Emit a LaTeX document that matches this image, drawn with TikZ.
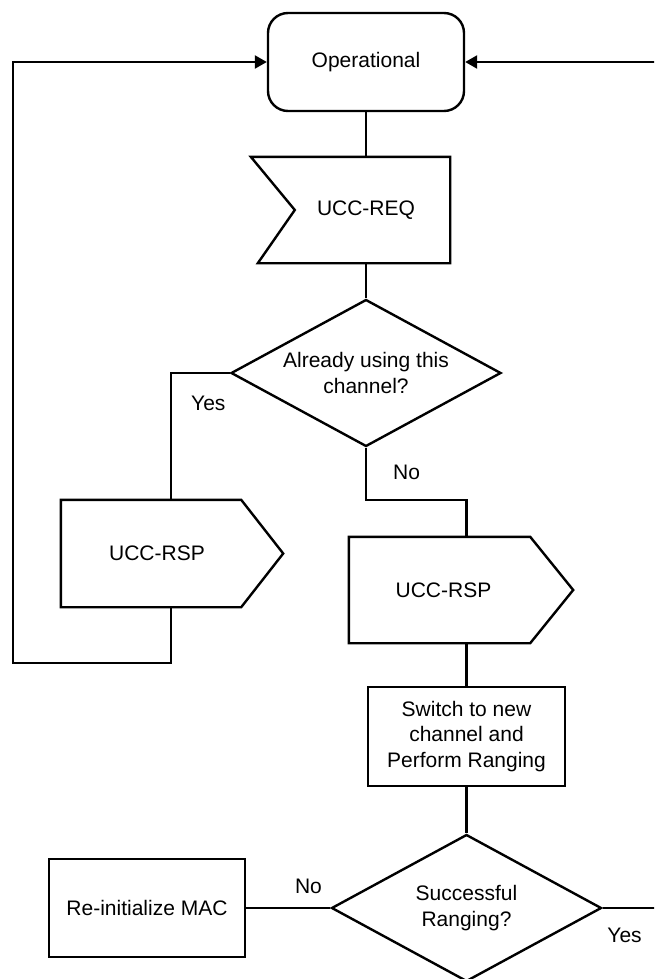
\documentclass[tikz,border=0pt]{standalone}
\usepackage{fontspec}
\setmainfont{Liberation Sans}
\usetikzlibrary{shapes.geometric,arrows.meta}

\begin{document}
\begin{tikzpicture}[x=1pt,y=-1pt,line width=2.4pt,
    font=\fontsize{21}{25.5}\selectfont,
    box/.style={draw,rectangle,minimum width=197pt,minimum height=99pt,align=center,inner sep=0pt},
    body/.style={rectangle,align=center,inner sep=0pt},
    ask/.style={draw,diamond,aspect=1.84,minimum width=270pt,minimum height=147pt,align=center,inner sep=0pt},
    arr/.style={-{Triangle[length=12pt,width=13pt]}},
    lbl/.style={inner sep=0pt}]
    \useasboundingbox (0,0) rectangle (654,979);
    \clip (0,0) rectangle (654,979);

    % Operational state
    \node[draw,rounded corners=20pt,minimum width=196pt,minimum height=98pt] (op) at (366,62) {Operational};

    % UCC-REQ received
    \node[body,minimum width=166pt,minimum height=104pt] (req) at (366,210) {UCC-REQ};
    \draw (req.north east) -- ([xshift=-31pt]req.north west) -- ([xshift=13pt]req.west)
        -- ([xshift=-24pt]req.south west) -- (req.south east) -- cycle;

    \node[ask] (q1) at (366,373) {Already using this\\channel?};

    % UCC-RSP, same channel
    \node[body,minimum width=178pt,minimum height=105pt] (rspL) at (151,553.5) {\hspace*{12pt}UCC-RSP};
    \draw (rspL.north west) -- (rspL.north east) -- ([xshift=42pt]rspL.east)
        -- (rspL.south east) -- (rspL.south west) -- cycle;

    % UCC-RSP, new channel
    \node[body,minimum width=179pt,minimum height=104pt] (rspR) at (439.5,590) {\hspace*{8pt}UCC-RSP};
    \draw (rspR.north west) -- (rspR.north east) -- ([xshift=43pt]rspR.east)
        -- (rspR.south east) -- (rspR.south west) -- cycle;

    \node[box] (sw) at (466.5,736.5) {Switch to new\\channel and\\Perform Ranging};

    \node[ask] (q2) at (466.5,908) {Successful\\Ranging?};

    \node[box,minimum width=196pt,minimum height=98pt] (mac) at (147,908) {Re-initialize MAC};

    \coordinate (lft) at (13,663);
    \coordinate (rgt) at (690,908);

    % Connectors
    \draw (op.south) -- (req.north);
    \draw (req.south) -- (q1.north);
    \draw (q1.west) -| node[lbl,pos=0.62,right=19pt] {Yes} ([xshift=20pt]rspL.north);
    \draw[arr] ([xshift=20pt]rspL.south) |- (lft) |- (op.west);
    \draw (q1.south) |- node[lbl,pos=0.24,right=26pt] {No} (sw.north |- 0,500) -- (sw.north |- rspR.north);
    \draw (sw.north |- rspR.south) -- (sw.north);
    \draw (sw.south) -- (q2.north);
    \draw (q2.west) -- node[lbl,pos=0.26,above=13pt] {No} (mac.east);
    \draw[arr] (q2.east) -- node[lbl,pos=0.25,below=19pt] {Yes} (rgt) |- (op.east);
\end{tikzpicture}
\end{document}
